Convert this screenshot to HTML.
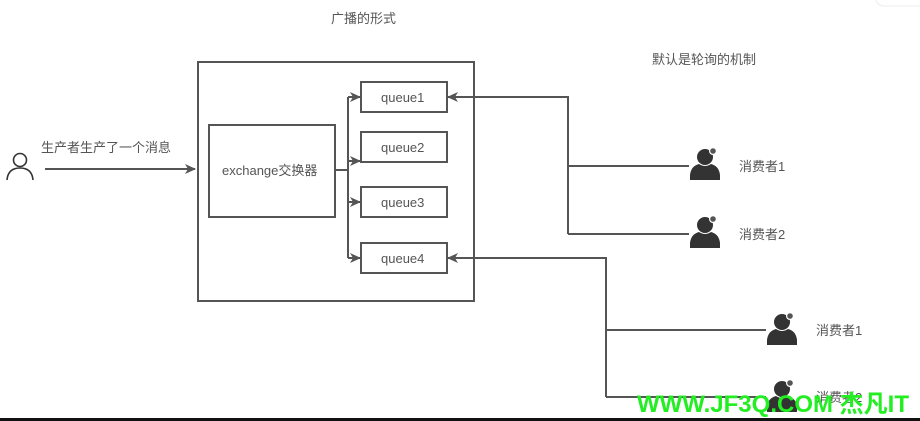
<!DOCTYPE html>
<html><head><meta charset="utf-8"><style>
html,body{margin:0;padding:0;background:#fff;width:920px;height:421px;overflow:hidden}
text{font-family:"Liberation Sans","Noto Sans CJK SC",sans-serif;fill:#555}
</style></head><body>
<svg width="920" height="421" viewBox="0 0 920 421" xmlns="http://www.w3.org/2000/svg">
<defs>
<marker id="a" markerWidth="12" markerHeight="12" refX="10" refY="5" orient="auto" markerUnits="userSpaceOnUse">
<path d="M0,0 L11,5 L0,10 L3,5 Z" fill="#555"/></marker>
<g id="c">
<circle cx="0" cy="-8" r="8" fill="#333"/>
<path d="M-15,15 L-15,10 Q-14,1 -6,-1 Q0,3 6,-1 Q14,1 15,10 L15,15 Z" fill="#333"/>
<circle cx="8" cy="-14" r="4" fill="#fff"/><circle cx="8" cy="-14" r="2.8" fill="#555"/>
</g>
</defs>
<path d="M876,0 Q878,6 884,6 L920,6" fill="none" stroke="#eee"/>
<text x="331" y="23" font-size="13">广播的形式</text>
<text x="652" y="64" font-size="13">默认是轮询的机制</text>
<g fill="none" stroke="#555" stroke-width="2">
<rect x="198" y="62" width="276" height="239"/>
<rect x="209" y="125" width="126" height="92"/>
<rect x="361" y="82" width="86" height="30"/>
<rect x="361" y="132" width="86" height="30"/>
<rect x="361" y="187" width="86" height="30"/>
<rect x="361" y="243" width="86" height="30"/>
<circle cx="20" cy="160" r="6.5" stroke="#333" stroke-width="1.6"/>
<path d="M7,180 Q8,168 20,168 Q32,168 33,180" stroke="#333" stroke-width="1.6"/>
<path d="M45,169 L195,169" marker-end="url(#a)"/>
<path d="M335,170 L348,170 M348,97 L348,258"/>
<path d="M348,97 L360,97" marker-end="url(#a)"/>
<path d="M348,161 L360,161" marker-end="url(#a)"/>
<path d="M348,202 L360,202" marker-end="url(#a)"/>
<path d="M348,258 L360,258" marker-end="url(#a)"/>
<path d="M689,166 L568,166 M689,234 L568,234 M568,234 L568,97 L448,97" marker-end="url(#a)"/>
<path d="M766,330 L606,330 M766,397 L606,397 M606,397 L606,258 L448,258" marker-end="url(#a)"/>
</g>
<text x="41" y="152" font-size="13">生产者生产了一个消息</text>
<text x="222" y="175" font-size="13">exchange交换器</text>
<text x="381" y="102" font-size="13">queue1</text>
<text x="381" y="152" font-size="13">queue2</text>
<text x="381" y="207" font-size="13">queue3</text>
<text x="381" y="263" font-size="13">queue4</text>
<use href="#c" x="705" y="165"/>
<use href="#c" x="705" y="233"/>
<use href="#c" x="782" y="330"/>
<use href="#c" x="782" y="397"/>
<text x="739" y="171" font-size="13">消费者1</text>
<text x="739" y="239" font-size="13">消费者2</text>
<text x="816" y="335" font-size="13">消费者1</text>
<text x="816" y="402" font-size="13">消费者2</text>
<text x="637" y="412" font-size="24" font-weight="bold" style="fill:#22ee22">WWW.JF3Q.COM 杰凡IT</text>
<rect x="0" y="418" width="920" height="3" fill="#111"/>
</svg>
</body></html>
